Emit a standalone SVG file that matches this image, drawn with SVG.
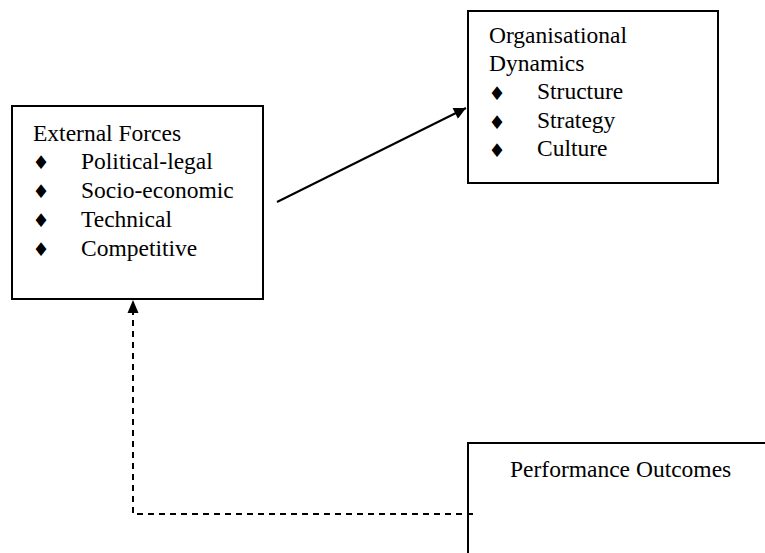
<svg xmlns="http://www.w3.org/2000/svg" width="765" height="553" viewBox="0 0 765 553">
<defs>
<style>
.box{fill:#fff;stroke:#000;stroke-width:2}
.t{font-family:"Liberation Serif","Times New Roman",serif;font-size:23.5px;fill:#000}
.b{font-family:"DejaVu Sans",sans-serif;font-size:19px;fill:#000;text-anchor:middle}
.c{fill:none;stroke:#000;stroke-width:2}
.d{fill:none;stroke:#000;stroke-width:2;stroke-dasharray:6 5}
</style>
<marker id="ah" viewBox="0 0 10 10" refX="10" refY="5" markerWidth="7.5" markerHeight="6" markerUnits="strokeWidth" orient="auto">
<path d="M0,0 L10,5 L0,10 z" fill="#000"/>
</marker>
</defs>
<rect width="765" height="553" fill="#fff"/>
<g id="external-forces">
<rect class="box" x="12" y="106" width="251" height="193"/>
<text class="t" x="33" y="140.5">External Forces</text>
<text class="b" x="41" y="169">♦</text>
<text class="t" x="81" y="168.5">Political-legal</text>
<text class="b" x="41" y="198">♦</text>
<text class="t" x="81" y="197.5">Socio-economic</text>
<text class="b" x="41" y="227">♦</text>
<text class="t" x="81" y="226.5">Technical</text>
<text class="b" x="41" y="256">♦</text>
<text class="t" x="81" y="255.5">Competitive</text>
</g>
<g id="organisational-dynamics">
<rect class="box" x="468" y="11" width="250" height="172"/>
<text class="t" x="489" y="43">Organisational</text>
<text class="t" x="489" y="71">Dynamics</text>
<text class="b" x="497" y="99.5">♦</text>
<text class="t" x="537" y="99">Structure</text>
<text class="b" x="497" y="128.5">♦</text>
<text class="t" x="537" y="128">Strategy</text>
<text class="b" x="497" y="156.5">♦</text>
<text class="t" x="537" y="156">Culture</text>
</g>
<g id="performance-outcomes">
<rect class="box" x="468" y="443" width="340" height="150"/>
<text class="t" x="510" y="477">Performance Outcomes</text>
</g>
<g id="connectors">
<line class="c" x1="277" y1="202" x2="466" y2="108" marker-end="url(#ah)"/>
<polyline class="d" points="473,514 133,514 133,312"/>
<path d="M133,300 L127.5,313 L138.5,313 z" fill="#000"/>
</g>
</svg>
